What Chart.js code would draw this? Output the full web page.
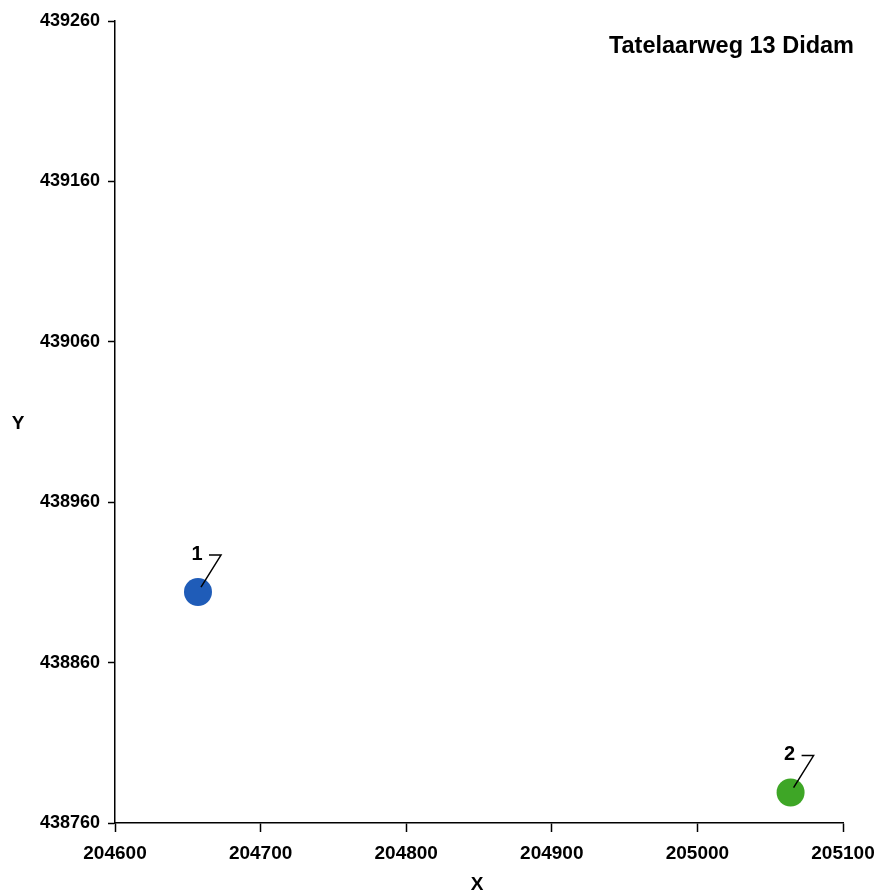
<!DOCTYPE html>
<html>
<head>
<meta charset="utf-8">
<script src="https://cdn.jsdelivr.net/npm/chart.js@4.4.1/dist/chart.umd.min.js"></script>
<style>
  body { margin: 0; background: #fff; }
  #wrap { width: 875px; height: 895px; position: relative; }
</style>
</head>
<body>
<div id="wrap"><canvas id="plot"></canvas></div>
<script>
// point data
const pointNames = ['1', '2'];
const xCoords = [204657, 205064];
const yCoords = [438904, 438779];
const pointColors = ['#1f5cb8', '#3ea626'];

const chartTitle = 'Tatelaarweg 13 Didam';
const xMin = 204600, xMax = 205100, xStep = 100;
const yMin = 438760, yMax = 439260, yStep = 100;

const FONT = '"Liberation Sans", Arial, sans-serif';

// labels, leader lines and axis names drawn on top
const annotate = {
    id: 'annotate',
    afterDatasetsDraw(chart) {
        const ctx = chart.ctx;
        const meta = chart.getDatasetMeta(0);
        ctx.save();
        ctx.fillStyle = '#000';
        ctx.strokeStyle = '#000';
        ctx.lineWidth = 1.5;
        meta.data.forEach((pt, i) => {
            const px = pt.x, py = pt.y;
            ctx.beginPath();
            ctx.moveTo(px + 3, py - 5);
            ctx.lineTo(px + 23, py - 37);
            ctx.lineTo(px + 11, py - 37);
            ctx.stroke();
            ctx.font = 'bold 20px ' + FONT;
            ctx.textAlign = 'center';
            ctx.textBaseline = 'middle';
            ctx.fillText(pointNames[i], px - 1, py - 38);
        });
        ctx.font = 'bold 19px ' + FONT;
        ctx.textAlign = 'center';
        ctx.textBaseline = 'middle';
        ctx.fillText('Y', 18, 424);
        ctx.fillText('X', 477, 885);
        ctx.font = 'bold 23.5px ' + FONT;
        ctx.textAlign = 'right';
        ctx.fillText(chartTitle, 854, 47);
        ctx.restore();
    }
};

new Chart(document.getElementById('plot'), {
    type: 'scatter',
    data: {
        datasets: [{
            data: xCoords.map((x, i) => ({ x: x, y: yCoords[i] })),
            pointRadius: 14,
            pointHoverRadius: 14,
            pointBackgroundColor: pointColors,
            pointBorderColor: pointColors,
            pointBorderWidth: 0
        }]
    },
    options: {
        responsive: true,
        maintainAspectRatio: false,
        animation: false,
        layout: { padding: { top: 21, right: 32, left: 0, bottom: 0 } },
        plugins: {
            legend: { display: false },
            tooltip: { enabled: false }
        },
        scales: {
            x: {
                type: 'linear',
                min: xMin, max: xMax,
                afterFit(scale) {
                    scale.height = 72;
                    scale.paddingLeft = 0;
                    scale.paddingRight = 0;
                },
                ticks: {
                    stepSize: xStep,
                    color: '#000',
                    padding: 10,
                    maxRotation: 0,
                    font: { family: FONT, size: 19, weight: 'bold' },
                    callback: v => String(v)
                },
                grid: { drawOnChartArea: false, color: '#000', tickLength: 9, tickWidth: 1.5 },
                border: { color: '#000', width: 1.5 }
            },
            y: {
                type: 'linear',
                min: yMin, max: yMax,
                afterFit(scale) {
                    scale.width = 115;
                    scale.paddingTop = 0;
                    scale.paddingBottom = 0;
                },
                ticks: {
                    stepSize: yStep,
                    color: '#000',
                    padding: 8,
                    font: { family: FONT, size: 18, weight: 'bold' },
                    callback: v => String(v)
                },
                grid: { drawOnChartArea: false, color: '#000', tickLength: 7, tickWidth: 1.5 },
                border: { color: '#000', width: 1.5 }
            }
        }
    },
    plugins: [annotate]
});
</script>
</body>
</html>
